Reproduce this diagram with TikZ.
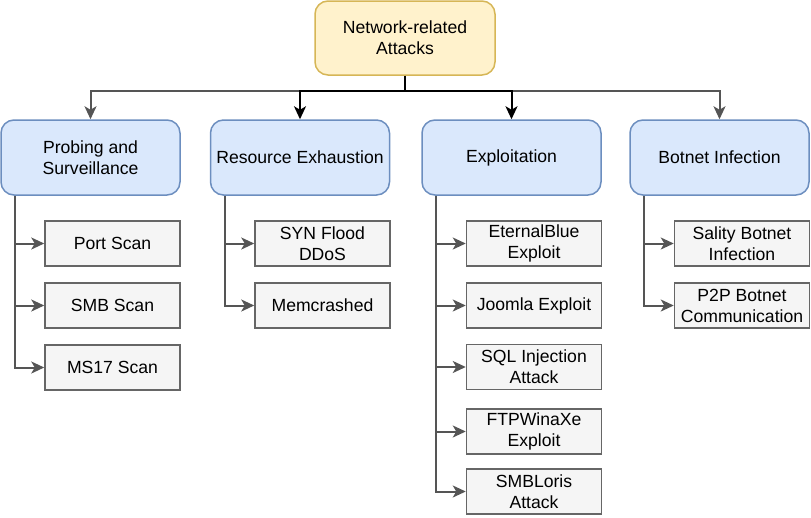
\documentclass[tikz,border=0pt]{standalone}
\usepackage{fontspec}
\setmainfont{Liberation Sans}
\usepackage{tikz}
\usepackage{xcolor}
\usetikzlibrary{arrows.meta,positioning}
\definecolor{RootFill}{HTML}{FFF2CC}
\definecolor{RootLine}{HTML}{D6B656}
\definecolor{CatFill}{HTML}{DAE8FC}
\definecolor{CatLine}{HTML}{6C8EBF}
\definecolor{LeafFill}{HTML}{F5F5F5}
\definecolor{LeafLine}{HTML}{666666}
\definecolor{EdgeGray}{HTML}{555555}

\begin{document}
\begin{tikzpicture}[
      x=1pt,y=-1pt,
      font=\fontsize{17.6}{21}\selectfont,
      rootbox/.style={draw=RootLine,fill=RootFill,line width=1.5pt,rounded corners=13pt,minimum width=180pt,minimum height=74pt,align=center},
      catbox/.style={draw=CatLine,fill=CatFill,line width=1.5pt,rounded corners=13pt,minimum width=179pt,minimum height=75pt,align=center},
      leafbox/.style={draw=LeafLine,fill=LeafFill,line width=1.5pt,minimum width=135pt,minimum height=45pt,align=center,inner sep=1pt},
      arr/.style={-{Stealth[length=13pt,width=12pt,inset=3.5pt]},line width=2pt,draw=EdgeGray},
      arrblack/.style={arr,draw=black}
    ]
      \useasboundingbox (0,0) rectangle (811,517);
      \node[rootbox] (root) at (405,38) {Network-related\\Attacks};
      \node[catbox] (probe) at (90.5,157.5) {Probing and\\Surveillance};
      \node[catbox] (res) at (300,157.5) {Resource Exhaustion};
      \node[catbox] (expl) at (511.5,157.5) {Exploitation};
      \node[catbox] (bot) at (719.5,157.5) {Botnet Infection};

      \node[leafbox] (port) at (112.5,243.5) {Port Scan};
      \node[leafbox] (smb) at (112.5,305.5) {SMB Scan};
      \node[leafbox] (ms17) at (112.5,367.5) {MS17 Scan};

      \node[leafbox] (syn) at (322.5,243.5) {SYN Flood\\DDoS};
      \node[leafbox] (memc) at (322.5,305.5) {Memcrashed};

      \node[leafbox] (eblue) at (534,243.5) {EternalBlue\\Exploit};
      \node[leafbox] (joomla) at (534,305.5) {Joomla Exploit};
      \node[leafbox] (sqli) at (534,367) {SQL Injection\\Attack};
      \node[leafbox] (ftpw) at (534,431.5) {FTPWinaXe\\Exploit};
      \node[leafbox] (smbl) at (534,491.5) {SMBLoris\\Attack};

      \node[leafbox] (sality) at (742,243.5) {Sality Botnet\\Infection};
      \node[leafbox] (ptp) at (742,305.5) {P2P Botnet\\Communication};

      \draw[arr] (root.south) -- ++(0,15) -| (probe.north);
      \draw[arr] (root.south) -- ++(0,15) -| (bot.north);
      \draw[arrblack] (root.south) -- ++(0,15) -| (res.north);
      \draw[arrblack] (root.south) -- ++(0,15) -| (expl.north);

      \foreach \leaf in {port,smb,ms17}
        \draw[arr] ([xshift=15pt]probe.south west) |- (\leaf.west);
      \foreach \leaf in {syn,memc}
        \draw[arr] ([xshift=15pt]res.south west) |- (\leaf.west);
      \foreach \leaf in {eblue,joomla,sqli,ftpw,smbl}
        \draw[arr] ([xshift=15pt]expl.south west) |- (\leaf.west);
      \foreach \leaf in {sality,ptp}
        \draw[arr] ([xshift=15pt]bot.south west) |- (\leaf.west);
    \end{tikzpicture}
\end{document}
